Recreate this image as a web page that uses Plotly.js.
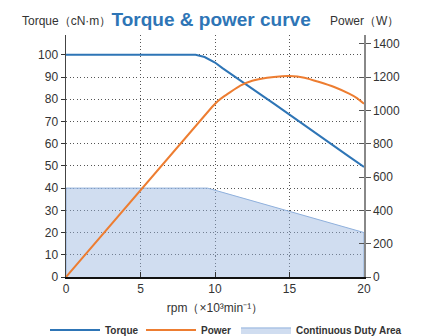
<!DOCTYPE html>
<html>
<head>
<meta charset="utf-8">
<script src="https://cdn.plot.ly/plotly-3.0.1.min.js"></script>
<style>html,body{margin:0;padding:0;background:#fff;}</style>
</head>
<body>
<div id="chart" style="width:424px;height:336px;"></div>
<script>
// rpm in ×10³ min⁻¹
const torqueRpm = [0, 8.7, 9.3, 10, 10.5, 11, 12, 13, 14, 15, 16, 17, 18, 19, 20];
const torqueVals = [100, 100, 99, 96.5, 94, 91.6, 87, 82.4, 77.8, 73, 68.3, 63.6, 59, 54.2, 49.5];

const powerRpm = [0, 9.8, 10.2, 10.6, 11, 11.7, 12.5, 13.5, 14.5, 15, 16, 17, 18, 19, 19.5, 20];
const powerVals = [0, 1020, 1056, 1084, 1108, 1148, 1177, 1196, 1205, 1206, 1196, 1170, 1140, 1100, 1075, 1040];

// continuous duty area outline (closed polygon down to 0)
const dutyRpm = [0, 0, 9.5, 20, 20];
const dutyVals = [0, 40, 40, 20, 0];

const xTicks = [0, 5, 10, 15, 20];

const FONT = 'Liberation Sans, Arial, Helvetica, sans-serif';
const GRIDDASH = '1px,2.5px';

const traces = [
  {
    x: dutyRpm, y: dutyVals, name: 'Continuous Duty Area', type: 'scatter', mode: 'lines',
    fill: 'toself', fillcolor: 'rgba(150,180,222,0.45)',
    line: {color: '#8fb0dc', width: 1}, legend: 'legend3', hoverinfo: 'skip'
  },
  {
    x: powerRpm, y: powerVals, name: 'Power', type: 'scatter', mode: 'lines', yaxis: 'y2',
    line: {color: '#ed7d31', width: 2, shape: 'spline', smoothing: 0.4}, legend: 'legend2'
  },
  {
    x: torqueRpm, y: torqueVals, name: 'Torque', type: 'scatter', mode: 'lines',
    line: {color: '#2e75b6', width: 2}, legend: 'legend'
  },
  {
    x: [], y: [], yaxis: 'y3', showlegend: false, type: 'scatter', mode: 'lines'
  }
];

function legendAt(px) {
  return {
    orientation: 'h', xref: 'container', x: px / 424, xanchor: 'left',
    yref: 'container', y: 0.018, yanchor: 'middle', itemwidth: 50,
    bgcolor: 'rgba(0,0,0,0)', borderwidth: 0,
    font: {family: FONT, size: 10, weight: 'bold', color: '#333'}
  };
}

const layout = {
  width: 424, height: 336,
  margin: {l: 66, r: 60, t: 35, b: 59, autoexpand: false},
  paper_bgcolor: '#fff', plot_bgcolor: '#fff',
  font: {family: FONT, size: 12, color: '#333'},
  title: {
    text: 'Torque & power curve', font: {family: FONT, size: 19, weight: 'bold', color: '#2e75b6'},
    xref: 'paper', x: 0.487, xanchor: 'center', yref: 'container', y: 0.943, yanchor: 'middle'
  },
  showlegend: true,
  legend: legendAt(45),
  legend2: legendAt(141),
  legend3: legendAt(236),
  xaxis: {
    range: [0, 20], tickvals: xTicks, ticks: 'inside', ticklen: 5, tickcolor: '#333',
    showgrid: true, gridcolor: '#555', griddash: GRIDDASH, gridwidth: 1,
    showline: true, linecolor: '#111', linewidth: 1.5, zeroline: false,
    tickfont: {size: 12, color: '#333'},
    title: {text: 'rpm（×10³min⁻¹）', font: {size: 12, color: '#333'}, standoff: 18}
  },
  yaxis: {
    range: [0, 108.9], tick0: 0, dtick: 10, ticks: 'outside', ticklen: 4, tickcolor: '#333',
    showgrid: true, gridcolor: '#555', griddash: GRIDDASH, gridwidth: 1,
    showline: true, linecolor: '#444', linewidth: 1.5, zeroline: false,
    tickfont: {size: 12, color: '#333'}
  },
  yaxis2: {
    overlaying: 'y', side: 'right', range: [0, 1452], tick0: 0, dtick: 200,
    ticks: 'outside', ticklen: 5, tickcolor: '#555', showgrid: false,
    showline: true, linecolor: '#888', linewidth: 1.5, zeroline: false,
    tickfont: {size: 12, color: '#333'}
  },
  yaxis3: {
    overlaying: 'y', side: 'right', range: [0, 1452], tick0: 0, dtick: 200,
    ticks: 'inside', ticklen: 5, tickcolor: '#555', showgrid: false,
    showline: false, zeroline: false, showticklabels: false
  },
  annotations: [
    {text: 'Torque（cN·m）', xref: 'paper', yref: 'paper', x: 0, y: 1.058,
     xanchor: 'center', yanchor: 'middle', showarrow: false, font: {size: 12, color: '#333'}},
    {text: 'Power（W）', xref: 'paper', yref: 'paper', x: 1.0, y: 1.058,
     xanchor: 'center', yanchor: 'middle', showarrow: false, font: {size: 12, color: '#333'}}
  ]
};

Plotly.newPlot('chart', traces, layout, {displayModeBar: false, staticPlot: true});
</script>
</body>
</html>
